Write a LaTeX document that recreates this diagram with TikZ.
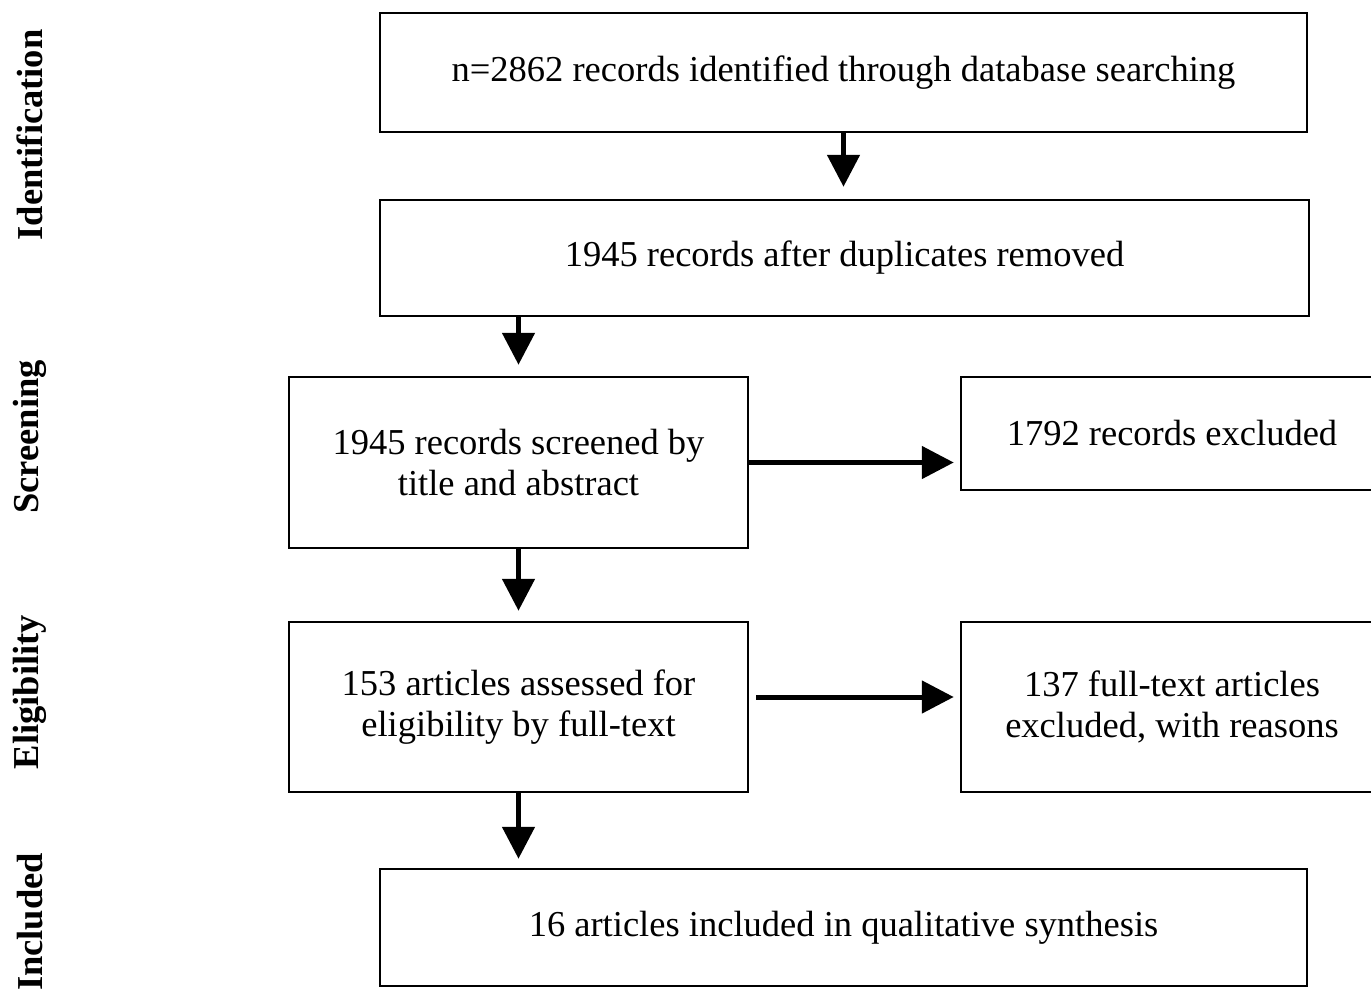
\documentclass[tikz,border=0pt]{standalone}
\usepackage{fontspec}
\setmainfont{Liberation Serif}
\usetikzlibrary{arrows.meta,calc}
\begin{document}
\begin{tikzpicture}[x=1pt,y=-1pt,
  box/.style={draw=black,line width=2.5pt,fill=white,inner sep=0pt,align=center,
    font=\fontsize{36.5}{41}\selectfont},
  arr/.style={line width=5pt,-{Triangle[length=32pt,width=32pt]}},
  phase/.style={rotate=90,font=\fontsize{36.5}{41}\selectfont\bfseries,anchor=center}]
\useasboundingbox (0,0) rectangle (1371,993);
\clip (0,0) rectangle (1371,993);
\fill[white] (0,0) rectangle (1371,993);
\node[box,minimum width=927pt,minimum height=119pt] (b1) at (843.5,72.5) {n=2862 records identified through database searching};
\node[box,minimum width=929pt,minimum height=116pt] (b2) at (844.5,258) {1945 records after duplicates removed};
\node[box,minimum width=459pt,minimum height=171pt] (b3) at (518.5,462.5) {1945 records screened by\\title and abstract};
\node[box,minimum width=422pt,minimum height=113pt] (r1) at (1172,433.5) {1792 records excluded};
\node[box,minimum width=459pt,minimum height=170pt] (b4) at (518.5,707) {153 articles assessed for\\eligibility by full-text};
\node[box,minimum width=422pt,minimum height=170pt] (r2) at (1172,707) {137 full-text articles\\excluded, with reasons};
\node[box,minimum width=927pt,minimum height=117pt] (b5) at (843.5,927.5) {16 articles included in qualitative synthesis};
\draw[arr,shorten >=12pt] (b1.south) -- (b1.south |- b2.north);
\draw[arr,shorten >=11pt] (b3.north |- b2.south) -- (b3.north);
\draw[arr,shorten >=10pt] (b3.south) -- (b4.north);
\draw[arr,shorten >=9pt] (b4.south) -- (b4.south |- b5.north);
\draw[arr,shorten >=6pt] (b3.east) -- (b3.east -| r1.west);
\coordinate (a2s) at ($(b4.east)+(7,-10)$);
\draw[arr,shorten >=6pt] (a2s) -- (a2s -| r2.west);
\node[phase] (p1) at (30,135) {Identification};
\node[phase] (p2) at (30,437) {Screening};
\node[phase] (p3) at (30,692) {Eligibility};
\node[phase] (p4) at (30,922) {Included};
\end{tikzpicture}
\end{document}
